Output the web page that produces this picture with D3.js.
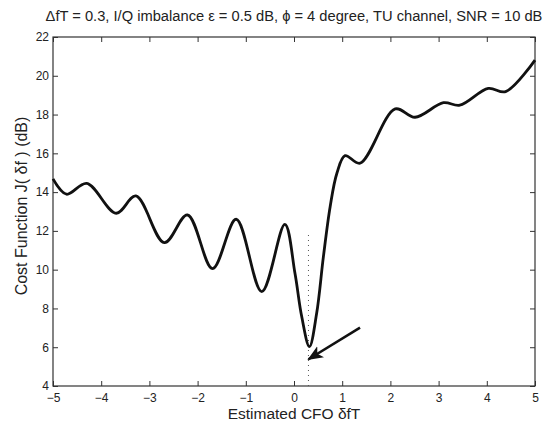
<!DOCTYPE html>
<html>
<head>
<script src="https://cdn.jsdelivr.net/npm/d3@7"></script>
<style>
  body { margin: 0; background: #fff; }
  text { font-family: "Liberation Sans", Arial, sans-serif; fill: #222; }
</style>
</head>
<body>
<div id="chart"></div>
<script>
// estimated CFO (x) and cost function in dB (y)
var cfo  = [-5, -4.72, -4.30, -3.69, -3.28, -2.69, -2.21, -1.69, -1.20, -0.67, -0.19, 0.02, 0.16, 0.32, 0.47, 0.61, 0.75, 0.89, 1.06, 1.37, 2.10, 2.51, 3.10, 3.44, 4.03, 4.39, 5];
var cost = [14.68, 13.89, 14.45, 12.91, 13.80, 11.39, 12.82, 10.05, 12.60, 8.87, 12.34, 9.81, 7.58, 6.03, 7.75, 10.67, 13.25, 14.97, 15.88, 15.49, 18.29, 17.86, 18.61, 18.48, 19.35, 19.18, 20.81];
var xTicks = [-5, -4, -3, -2, -1, 0, 1, 2, 3, 4, 5];
var yTicks = [4, 6, 8, 10, 12, 14, 16, 18, 20, 22];
var trueCfo = 0.3;          // dotted marker
var markerRange = [4, 11.9];
var arrowFrom = [1.37, 7.01];
var arrowTo = [0.30, 5.38];

var width = 557, height = 426;
var margin = {top: 37, right: 22, bottom: 40, left: 53};
var w = width - margin.left - margin.right;
var h = height - margin.top - margin.bottom;

var svg = d3.select("#chart").append("svg")
  .attr("width", width)
  .attr("height", height);

var g = svg.append("g")
  .attr("transform", "translate(" + margin.left + "," + margin.top + ")");

var x = d3.scaleLinear().domain([-5, 5]).range([0, w]);
var y = d3.scaleLinear().domain([4, 22]).range([h, 0]);

var fmt = function(d) { return d < 0 ? "\u2212" + Math.abs(d) : d; };

// axes, matlab style box with inward ticks
function styleAxis(sel) {
  sel.select(".domain").remove();
  sel.selectAll(".tick line").attr("stroke", "#333");
  sel.selectAll(".tick text").style("font-size", "12px");
}
g.append("g").attr("transform", "translate(0," + h + ")")
  .call(d3.axisBottom(x).tickValues(xTicks).tickFormat(fmt).tickSizeInner(-5).tickPadding(7))
  .call(styleAxis);
g.append("g")
  .call(d3.axisLeft(y).tickValues(yTicks).tickFormat(fmt).tickSizeInner(-5).tickPadding(4))
  .call(styleAxis);
g.append("g")
  .call(d3.axisTop(x).tickValues(xTicks).tickFormat("").tickSizeInner(-5))
  .call(styleAxis);
g.append("g").attr("transform", "translate(" + w + ",0)")
  .call(d3.axisRight(y).tickValues(yTicks).tickFormat("").tickSizeInner(-5))
  .call(styleAxis);

g.append("rect")
  .attr("width", w).attr("height", h)
  .attr("fill", "none").attr("stroke", "#333").attr("stroke-width", 1.2);

// dotted vertical at the true CFO
g.append("line")
  .attr("x1", x(trueCfo)).attr("x2", x(trueCfo))
  .attr("y1", y(markerRange[0])).attr("y2", y(markerRange[1]))
  .attr("stroke", "#555").attr("stroke-width", 1)
  .attr("stroke-dasharray", "1,4");

// cost curve
var pts = cfo.map(function(d, i) { return [d, cost[i]]; });
g.append("path")
  .datum(pts)
  .attr("fill", "none")
  .attr("stroke", "#111")
  .attr("stroke-width", 2.8)
  .attr("stroke-linejoin", "round")
  .attr("d", d3.line()
    .x(function(d) { return x(d[0]); })
    .y(function(d) { return y(d[1]); })
    .curve(d3.curveCatmullRom.alpha(0.5)));

// arrow pointing to minimum
svg.append("defs").append("marker")
  .attr("id", "head")
  .attr("viewBox", "0 0 12 10")
  .attr("refX", 11).attr("refY", 5)
  .attr("markerWidth", 6).attr("markerHeight", 5.5)
  .attr("markerUnits", "strokeWidth")
  .attr("orient", "auto")
  .append("path").attr("d", "M0,0L12,5L0,10L3,5z").attr("fill", "#111");

g.append("line")
  .attr("x1", x(arrowFrom[0])).attr("y1", y(arrowFrom[1]))
  .attr("x2", x(arrowTo[0])).attr("y2", y(arrowTo[1]))
  .attr("stroke", "#111").attr("stroke-width", 2.6)
  .attr("marker-end", "url(#head)");

// titles
svg.append("text")
  .attr("x", margin.left + w / 2).attr("y", 21)
  .attr("text-anchor", "middle")
  .style("font-size", "14.7px")
  .text("\u0394fT = 0.3, I/Q imbalance \u03b5 = 0.5 dB, \u03d5 = 4 degree, TU channel, SNR = 10 dB");

svg.append("text")
  .attr("x", margin.left + w / 2).attr("y", 419)
  .attr("text-anchor", "middle")
  .style("font-size", "15.5px")
  .text("Estimated CFO \u03b4fT");

svg.append("text")
  .attr("transform", "translate(27,206) rotate(-90)")
  .attr("text-anchor", "middle")
  .style("font-size", "16px")
  .text("Cost Function J( \u03b4f ) (dB)");
</script>
</body>
</html>
